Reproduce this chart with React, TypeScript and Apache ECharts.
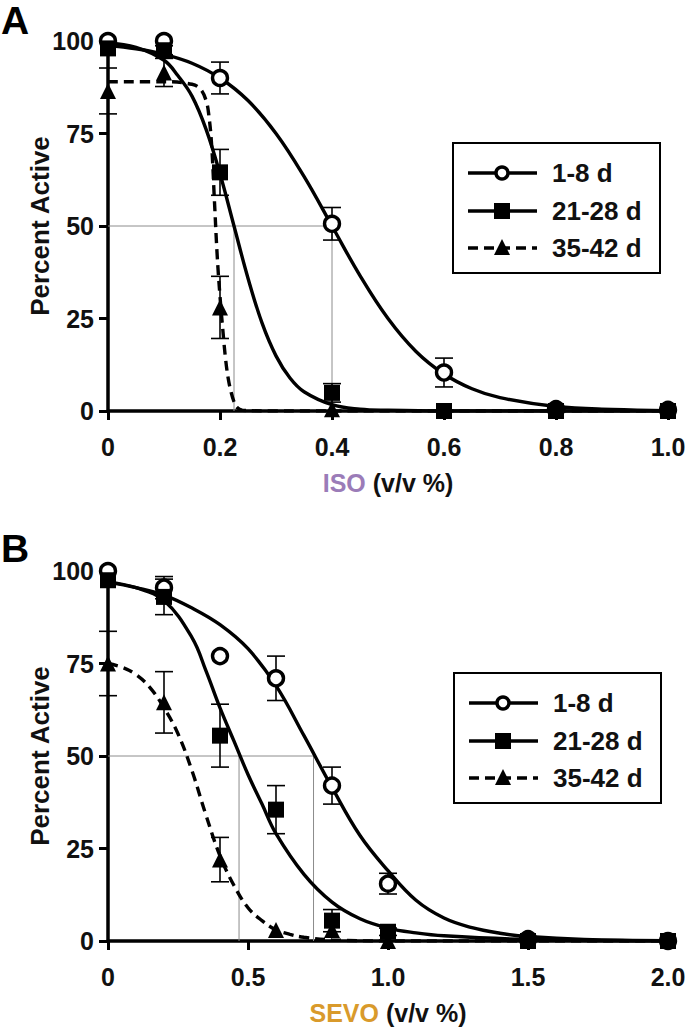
import React, { useEffect, useRef } from 'react';
import * as echarts from 'echarts';

const FONT = '"Liberation Sans", Arial, Helvetica, sans-serif';

// ---------- Panel A (ISO) ----------
const isoDoses = [0, 0.1, 0.2, 0.4, 0.6, 0.8, 1.0];
const isoG1 = [100, 100, 90, 50.6, 10.4, 0.5, 0.3];
const isoG1Err = [0, 0, 4.3, 4.4, 3.9, 0, 0];
const isoG2 = [98, 97.5, 64.5, 4.9, 0, 0, 0];
const isoG2Err = [0, 1.2, 6.2, 2.5, 0, 0, 0];
const isoG3 = [86.5, 91.5, 28, 0.5, 0, 0, 0];
const isoG3Err = [6.2, 3.8, 8.4, 0, 0, 0, 0];

const isoFit1X = [0, 0.05, 0.1, 0.15, 0.2, 0.25, 0.3, 0.35, 0.4, 0.45, 0.5, 0.55, 0.6, 0.65, 0.7, 0.8, 0.9, 1.0];
const isoFit1Y = [98.8, 97.9, 96.4, 94.0, 90.0, 83.9, 75.0, 63.4, 50.0, 36.6, 25.0, 16.1, 10.0, 6.0, 3.6, 1.2, 0.4, 0.1];
const isoFit2X = [0, 0.05, 0.1, 0.125, 0.15, 0.175, 0.2, 0.225, 0.25, 0.275, 0.3, 0.325, 0.35, 0.4, 0.45, 0.5, 0.6, 0.7, 0.8, 1.0];
const isoFit2Y = [99.5, 98.3, 94.8, 90.6, 85.1, 76.2, 64.1, 50, 35.9, 23.8, 14.9, 8.9, 5.2, 1.7, 0.5, 0.2, 0, 0, 0, 0];
const isoFit3X = [0, 0.1, 0.15, 0.165, 0.175, 0.18, 0.185, 0.19, 0.195, 0.2, 0.205, 0.21, 0.215, 0.22, 0.225, 0.23, 0.24, 0.3, 0.5, 1.0];
const isoFit3Y = [89, 89, 88.3, 87, 84, 80, 72, 57, 42, 31, 22, 14, 8.5, 5, 2.5, 1, 0.2, 0, 0, 0];
const isoHalf = [0.225, 0.4];

// ---------- Panel B (SEVO) ----------
const sevoDoses = [0, 0.2, 0.4, 0.6, 0.8, 1.0, 1.5, 2.0];
const sevoG1 = [100, 95.5, 77, 71, 42, 15.5, 0.5, 0];
const sevoG1Err = [0, 3, 0, 6, 5, 2.8, 0, 0];
const sevoG2 = [97.5, 93, 55.5, 35.5, 5.5, 2.5, 0, 0];
const sevoG2Err = [0, 4.8, 8.5, 6.5, 3, 1, 0, 0];
const sevoG3 = [75, 64.5, 22, 3, 3, 0, 0, 0];
const sevoG3Err = [8.7, 8.3, 6, 0, 0, 0, 0, 0];

const sevoFit1X = [0, 0.1, 0.2, 0.3, 0.4, 0.5, 0.6, 0.7, 0.8, 0.9, 1.0, 1.1, 1.2, 1.3, 1.4, 1.5, 1.7, 2.0];
const sevoFit1Y = [97, 95.5, 93.5, 90, 85.5, 79, 69, 55.5, 41.5, 28.5, 19, 11, 6.2, 3.6, 2.1, 1.2, 0.4, 0.1];
const sevoFit2X = [0, 0.1, 0.2, 0.3, 0.35, 0.4, 0.45, 0.5, 0.55, 0.6, 0.7, 0.8, 0.9, 1.0, 1.1, 1.2, 1.5, 2.0];
const sevoFit2Y = [97, 95.5, 92, 82, 73, 63, 54, 45, 37, 29, 18, 10.5, 6, 3.5, 2.2, 1.4, 0.4, 0.05];
const sevoFit3X = [0, 0.05, 0.1, 0.15, 0.2, 0.25, 0.3, 0.35, 0.4, 0.45, 0.5, 0.55, 0.6, 0.65, 0.7, 0.8, 1.0, 2.0];
const sevoFit3Y = [75, 74, 72, 68.5, 63, 56, 46, 34, 23, 15, 9, 5.5, 3, 1.8, 1, 0.3, 0, 0];
const sevoHalf = [0.468, 0.734];

const groupNames = ['1-8 d', '21-28 d', '35-42 d'];
const yTitle = 'Percent Active';

const zip = (xs: number[], ys: number[]) => xs.map((x, i) => [x, ys[i]]);
const zipErr = (xs: number[], ys: number[], es: number[]) =>
  xs.map((x, i) => [x, ys[i], es[i]]).filter((d) => d[2] > 0);

function errRender(params: any, api: any) {
  const x = api.value(0);
  const y = api.value(1);
  const e = api.value(2);
  const top = api.coord([x, y + e]);
  const bot = api.coord([x, y - e]);
  const w = 9;
  const st = { stroke: '#000', lineWidth: 1.6 };
  return {
    type: 'group',
    children: [
      { type: 'line', shape: { x1: top[0], y1: top[1], x2: bot[0], y2: bot[1] }, style: st },
      { type: 'line', shape: { x1: top[0] - w, y1: top[1], x2: top[0] + w, y2: top[1] }, style: st },
      { type: 'line', shape: { x1: bot[0] - w, y1: bot[1], x2: bot[0] + w, y2: bot[1] }, style: st },
    ],
  };
}

function panelSeries(
  idx: number,
  doses: number[],
  groups: number[][],
  errs: number[][],
  fits: [number[], number[]][],
  half: number[]
) {
  const s: any[] = [];
  const base = { xAxisIndex: idx, yAxisIndex: idx };
  const refMax = Math.max(...half);
  s.push({
    ...base,
    type: 'line',
    data: [[0, 50], [refMax, 50]],
    symbol: 'none',
    lineStyle: { color: '#8c8c8c', width: 1 },
    z: 1,
    silent: true,
  });
  half.forEach((h) => {
    s.push({
      ...base,
      type: 'line',
      data: [[h, 50], [h, 0]],
      symbol: 'none',
      lineStyle: { color: '#8c8c8c', width: 1 },
      z: 1,
      silent: true,
    });
  });
  fits.forEach(([fx, fy], gi) => {
    s.push({
      ...base,
      type: 'line',
      data: zip(fx, fy),
      smooth: 0.4,
      symbol: 'none',
      lineStyle: { color: '#000', width: 3.4, type: gi === 2 ? [10, 6] : 'solid' },
      z: 2,
    });
  });
  groups.forEach((g, gi) => {
    s.push({
      ...base,
      type: 'custom',
      renderItem: errRender,
      data: zipErr(doses, g, errs[gi]),
      z: 3,
      clip: false,
    });
  });
  const syms = ['circle', 'rect', 'triangle'];
  const sizes = [15, 16, 16];
  groups.forEach((g, gi) => {
    s.push({
      ...base,
      type: 'scatter',
      name: groupNames[gi],
      data: zip(doses, g),
      symbol: syms[gi],
      symbolSize: sizes[gi],
      itemStyle:
        gi === 0
          ? { color: '#fff', borderColor: '#000', borderWidth: 3.4, opacity: 1 }
          : { color: '#000', opacity: 1 },
      z: 4 + gi,
    });
  });
  return s;
}

function legendGraphic(left: number, top: number) {
  const rows = [30, 68, 105];
  const children: any[] = [
    {
      type: 'rect',
      shape: { x: left, y: top, width: 207, height: 130 },
      style: { fill: '#fff', stroke: '#000', lineWidth: 2 },
    },
  ];
  rows.forEach((dy, i) => {
    const y = top + dy;
    const x1 = left + 15;
    const x2 = left + 84;
    const cx = left + 49;
    children.push({
      type: 'line',
      shape: { x1, y1: y, x2, y2: y },
      style: { stroke: '#000', lineWidth: 3.4, lineDash: i === 2 ? [10, 6] : null },
    });
    if (i === 0) {
      children.push({ type: 'circle', shape: { cx, cy: y, r: 6 }, style: { fill: '#fff', stroke: '#000', lineWidth: 3.4 } });
    } else if (i === 1) {
      children.push({ type: 'rect', shape: { x: cx - 8, y: y - 8, width: 16, height: 16 }, style: { fill: '#000' } });
    } else {
      children.push({
        type: 'polygon',
        shape: { points: [[cx, y - 9], [cx + 8, y + 7], [cx - 8, y + 7]] },
        style: { fill: '#000' },
      });
    }
    children.push({
      type: 'text',
      style: {
        x: left + 99,
        y: y,
        text: groupNames[i],
        fontSize: 26,
        fontWeight: 'bold',
        fontFamily: FONT,
        fill: '#111',
        verticalAlign: 'middle',
        align: 'left',
      },
    });
  });
  return { type: 'group', children };
}

function yTitleGraphic(cx: number, cy: number) {
  return {
    type: 'text',
    x: cx,
    y: cy,
    rotation: Math.PI / 2,
    style: {
      text: yTitle,
      fontSize: 26,
      fontWeight: 'bold',
      fontFamily: FONT,
      fill: '#111',
      align: 'center',
      verticalAlign: 'middle',
    },
  };
}

const fmt = (v: number) => (v === 0 ? '0' : v.toFixed(1));

function xAxisOpt(idx: number, max: number, interval: number, drug: string, color: string) {
  return {
    type: 'value',
    gridIndex: idx,
    min: 0,
    max,
    interval,
    axisLine: { lineStyle: { color: '#000', width: 3.5 } },
    axisTick: { length: 9, lineStyle: { color: '#000', width: 3 } },
    splitLine: { show: false },
    axisLabel: { formatter: fmt, fontSize: 25, fontWeight: 'bold', fontFamily: FONT, color: '#111', margin: 23 },
    name: `{d|${drug}} (v/v %)`,
    nameLocation: 'middle',
    nameGap: 59,
    nameTextStyle: {
      fontSize: 25,
      fontWeight: 'bold',
      fontFamily: FONT,
      color: '#111',
      rich: { d: { fontSize: 25, fontWeight: 'bold', fontFamily: FONT, color } },
    },
  };
}

function yAxisOpt(idx: number) {
  return {
    type: 'value',
    gridIndex: idx,
    min: 0,
    max: 100,
    interval: 25,
    axisLine: { show: true, lineStyle: { color: '#000', width: 3.5 } },
    axisTick: { show: true, length: 9, lineStyle: { color: '#000', width: 3 } },
    splitLine: { show: false },
    axisLabel: { fontSize: 25, fontWeight: 'bold', fontFamily: FONT, color: '#111', margin: 14 },
  };
}

export default function App() {
  const ref = useRef<HTMLDivElement>(null);
  useEffect(() => {
    if (!ref.current) return;
    const chart = echarts.init(ref.current, null, { renderer: 'svg' });
    const option: any = {
      animation: false,
      backgroundColor: '#fff',
      grid: [
        { left: 108, top: 41, width: 560, height: 370 },
        { left: 108, top: 571, width: 560, height: 370 },
      ],
      xAxis: [
        xAxisOpt(0, 1, 0.2, 'ISO', '#9b7cb8'),
        xAxisOpt(1, 2, 0.5, 'SEVO', '#d99a2b'),
      ],
      yAxis: [yAxisOpt(0), yAxisOpt(1)],
      series: [
        ...panelSeries(
          0,
          isoDoses,
          [isoG1, isoG2, isoG3],
          [isoG1Err, isoG2Err, isoG3Err],
          [[isoFit1X, isoFit1Y], [isoFit2X, isoFit2Y], [isoFit3X, isoFit3Y]],
          isoHalf
        ),
        ...panelSeries(
          1,
          sevoDoses,
          [sevoG1, sevoG2, sevoG3],
          [sevoG1Err, sevoG2Err, sevoG3Err],
          [[sevoFit1X, sevoFit1Y], [sevoFit2X, sevoFit2Y], [sevoFit3X, sevoFit3Y]],
          sevoHalf
        ),
      ],
      graphic: [
        {
          type: 'text',
          style: { x: 1, y: 20, text: 'A', fontSize: 39, fontWeight: 'bold', fontFamily: FONT, fill: '#000', verticalAlign: 'middle' },
        },
        {
          type: 'text',
          style: { x: 1, y: 548, text: 'B', fontSize: 39, fontWeight: 'bold', fontFamily: FONT, fill: '#000', verticalAlign: 'middle' },
        },
        yTitleGraphic(40, 226),
        yTitleGraphic(40, 756),
        legendGraphic(453, 143),
        legendGraphic(454, 673),
      ],
    };
    chart.setOption(option);
    return () => chart.dispose();
  }, []);
  return (
    <div
      ref={ref}
      style={{ position: 'absolute', left: 0, top: 0, width: 689, height: 1027, background: '#fff' }}
    />
  );
}
